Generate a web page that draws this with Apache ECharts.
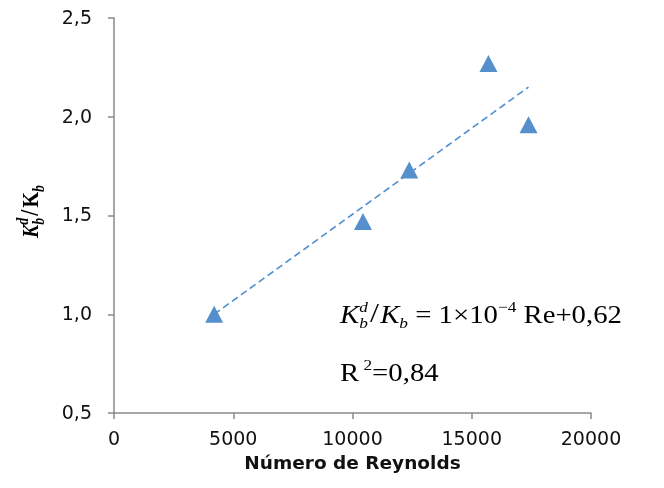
<!DOCTYPE html>
<html>
<head>
<meta charset="utf-8">
<script src="https://cdn.jsdelivr.net/npm/echarts@6/dist/echarts.min.js"></script>
<style>html,body{margin:0;padding:0;background:#fff}#c{width:664px;height:488px}</style>
</head>
<body>
<div id="c"></div>
<script>
// ---- data ----
const reynolds = [4200, 10440, 12380, 15700, 17380];
const ratio = [1.00, 1.47, 1.73, 2.27, 1.96];
const trendX = [4200, 17380];
const trendY = [1.00, 2.15];
const xTicks = [0, 5000, 10000, 15000, 20000];
const yTicks = [0.5, 1.0, 1.5, 2.0, 2.5];
const yTickLabels = ['0,5', '1,0', '1,5', '2,0', '2,5'];
const xTitle = 'Número de Reynolds';

const scatterData = reynolds.map((x, i) => [x, ratio[i]]);
const trendData = trendX.map((x, i) => [x, trendY[i]]);

const cv = document.createElement('canvas').getContext('2d');
function meas(t, font) { cv.font = font; return cv.measureText(t).width; }

function buildRow(parts, family, color) {
  let x = 0; const kids = [];
  parts.forEach(p => {
    if (p.gap !== undefined) { x += p.gap; return; }
    const grp = p.stack || [p];
    let adv = 0;
    grp.forEach(q => {
      const font = (q.italic ? 'italic ' : '') + (q.bold ? 'bold ' : '') + q.size + 'px ' + family;
      const w = meas(q.t, font);
      kids.push({
        type: 'text', x: x, y: (q.dy || 0) - 0.3 * q.size,
        style: { text: q.t, font: font, fill: color, align: 'left', verticalAlign: 'middle' }
      });
      adv = Math.max(adv, w);
    });
    x += adv;
  });
  return kids;
}

const serif = '"Liberation Serif", "Times New Roman", serif';

const eqParts = [
  { t: 'K', size: 25, italic: true },
  { stack: [{ t: 'd', size: 15, italic: true, dy: -11 }, { t: 'b', size: 15, italic: true, dy: 5 }] },
  { gap: 2 },
  { t: '/', size: 28 },
  { gap: 1 },
  { t: 'K', size: 25, italic: true },
  { t: 'b', size: 15, italic: true, dy: 5 },
  { t: ' = 1×10', size: 25 },
  { t: '−4', size: 15, dy: -11 },
  { t: ' Re+0,62', size: 25 }
];
const r2Parts = [
  { t: 'R', size: 25 },
  { t: ' 2', size: 15, dy: -11 },
  { t: '=0,84', size: 25 }
];
const yTitleParts = [
  { t: 'K', size: 20, italic: true, bold: true },
  { stack: [{ t: 'd', size: 14, italic: true, bold: true, dy: -9 }, { t: 'b', size: 14, italic: true, bold: true, dy: 5 }] },
  { gap: 2 },
  { t: '/', size: 22, bold: true },
  { gap: 2 },
  { t: 'K', size: 20, bold: true },
  { t: 'b', size: 14, italic: true, bold: true, dy: 5 }
];

const chart = echarts.init(document.getElementById('c'), null, { renderer: 'canvas' });
const axisColor = '#8a8a8a';
const labelFont = '"DejaVu Sans", sans-serif';

chart.setOption({
  animation: false,
  backgroundColor: '#ffffff',
  grid: { left: 114, top: 18, right: 73, bottom: 75 },
  xAxis: {
    type: 'value', min: xTicks[0], max: xTicks[xTicks.length - 1], interval: xTicks[1] - xTicks[0],
    axisLine: { show: true, onZero: false, lineStyle: { color: axisColor, width: 1.5 } },
    axisTick: { show: true, inside: false, length: 6, lineStyle: { color: axisColor, width: 1.5 } },
    splitLine: { show: false },
    axisLabel: { color: '#111', fontFamily: labelFont, fontSize: 19, margin: 18,
      formatter: v => String(v) },
    name: xTitle, nameLocation: 'middle', nameGap: 42,
    nameTextStyle: { color: '#111', fontFamily: labelFont, fontSize: 18.5, fontWeight: 'bold' }
  },
  yAxis: {
    type: 'value', min: yTicks[0], max: yTicks[yTicks.length - 1], interval: yTicks[1] - yTicks[0],
    axisLine: { show: true, onZero: false, lineStyle: { color: axisColor, width: 1.5 } },
    axisTick: { show: true, inside: false, length: 6, lineStyle: { color: axisColor, width: 1.5 } },
    splitLine: { show: false },
    axisLabel: { show: false }
  },
  series: [
    {
      type: 'line', data: trendData, showSymbol: false, symbol: 'none',
      lineStyle: { color: '#4f8fd0', width: 1.6, type: [7, 4] }, z: 2
    },
    {
      type: 'scatter', data: scatterData, symbol: 'triangle', symbolSize: [18, 17],
      itemStyle: { color: '#5590cc', opacity: 1 }, z: 3
    }
  ]
});

const yLabelEls = yTicks.map((v, i) => ({
  type: 'text',
  x: 92,
  y: chart.convertToPixel({ yAxisIndex: 0 }, v) + 1,
  style: { text: yTickLabels[i], font: '19px ' + labelFont, fill: '#111', align: 'right', verticalAlign: 'middle' }
}));

chart.setOption({
  graphic: [
    { type: 'group', x: 340, y: 323.5, scaleX: 1.15, children: buildRow(eqParts, serif, '#000') },
    { type: 'group', x: 340, y: 381.5, scaleX: 1.15, children: buildRow(r2Parts, serif, '#000') },
    { type: 'group', x: 39, y: 238, rotation: Math.PI / 2, scaleY: 1.15, children: buildRow(yTitleParts, serif, '#000') },
    { type: 'group', children: yLabelEls }
  ]
});
</script>
</body>
</html>
